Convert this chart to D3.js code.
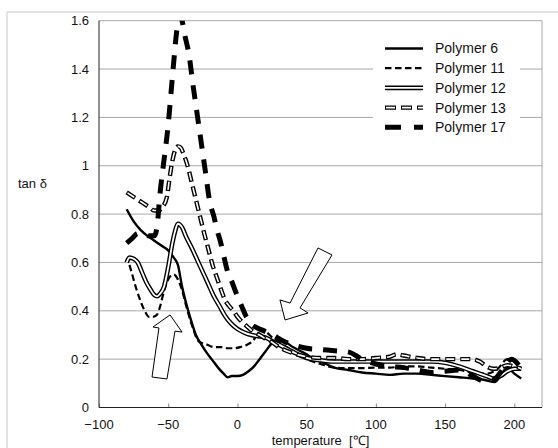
<!DOCTYPE html>
<html>
<head>
<meta charset="utf-8">
<script src="https://cdn.jsdelivr.net/npm/d3@7"></script>
<style>
  body { margin: 0; background: #fff; }
  text { font-family: "Liberation Sans", Arial, sans-serif; fill: #111; }
</style>
</head>
<body>
<div id="chart"></div>
<script>
// ---- data ----
const xTicks = [-100, -50, 0, 50, 100, 150, 200]
const yTicks = [0, 0.2, 0.4, 0.6, 0.8, 1, 1.2, 1.4, 1.6]
const seriesNames = ["Polymer 6", "Polymer 11", "Polymer 12", "Polymer 13", "Polymer 17"]

const p6T = [-80, -75, -70, -65, -60, -55, -50, -46, -43, -40, -37, -34, -30, -26, -22, -18, -14, -10, -7, -4, 0, 4, 8, 12, 16, 20, 24, 28, 30, 35, 40, 45, 50, 55, 60, 70, 80, 90, 100, 110, 120, 130, 140, 150, 160, 170, 178, 186, 191, 195, 200, 205]
const p6V = [0.82, 0.77, 0.735, 0.71, 0.69, 0.67, 0.65, 0.62, 0.59, 0.50, 0.43, 0.37, 0.30, 0.26, 0.225, 0.195, 0.165, 0.14, 0.125, 0.13, 0.13, 0.135, 0.15, 0.17, 0.2, 0.23, 0.26, 0.28, 0.285, 0.27, 0.25, 0.235, 0.22, 0.2, 0.19, 0.165, 0.155, 0.145, 0.14, 0.135, 0.14, 0.14, 0.135, 0.13, 0.125, 0.12, 0.115, 0.105, 0.14, 0.165, 0.14, 0.12]

const p11T = [-78, -76, -73, -70, -67, -64, -61, -58, -56, -54, -52, -49, -46, -43, -40, -37, -34, -31, -29, -25, -22, -17, -12, -7, -3, 2, 7, 10, 13, 16, 20, 25, 30, 40, 50, 60, 70, 80, 90, 100, 110, 120, 130, 140, 150, 160, 170, 180, 188, 195, 200, 205]
const p11V = [0.59, 0.55, 0.49, 0.44, 0.40, 0.375, 0.375, 0.385, 0.415, 0.46, 0.50, 0.54, 0.55, 0.53, 0.485, 0.42, 0.36, 0.31, 0.28, 0.265, 0.26, 0.25, 0.25, 0.245, 0.245, 0.25, 0.26, 0.27, 0.29, 0.32, 0.315, 0.29, 0.27, 0.235, 0.2, 0.18, 0.165, 0.163, 0.163, 0.165, 0.165, 0.17, 0.17, 0.165, 0.16, 0.155, 0.145, 0.14, 0.16, 0.2, 0.19, 0.16]

const p12T = [-80, -78, -75, -72, -69, -66, -63, -60, -58, -56, -53, -50, -47, -45, -43, -40, -37, -33, -29, -25, -21, -17, -13, -9, -5, 0, 5, 10, 15, 20, 25, 30, 40, 50, 60, 70, 80, 90, 100, 110, 120, 130, 140, 150, 160, 170, 180, 185, 190, 195, 200, 205]
const p12V = [0.60, 0.62, 0.615, 0.60, 0.56, 0.52, 0.49, 0.465, 0.46, 0.47, 0.50, 0.58, 0.68, 0.73, 0.76, 0.745, 0.705, 0.66, 0.61, 0.56, 0.51, 0.46, 0.42, 0.38, 0.35, 0.325, 0.31, 0.30, 0.295, 0.29, 0.275, 0.26, 0.23, 0.205, 0.195, 0.19, 0.19, 0.19, 0.19, 0.19, 0.19, 0.19, 0.19, 0.185, 0.17, 0.15, 0.13, 0.12, 0.13, 0.15, 0.16, 0.16]

const p13T = [-80, -76, -72, -68, -64, -60, -57, -54, -51, -49, -47, -45, -43, -41, -39, -36, -33, -30, -27, -24, -21, -18, -15, -12, -9, -6, -3, 0, 4, 8, 12, 16, 20, 25, 30, 40, 50, 60, 70, 80, 90, 100, 110, 115, 120, 130, 140, 150, 160, 170, 175, 180, 185, 190, 195, 200, 205]
const p13V = [0.89, 0.875, 0.86, 0.845, 0.83, 0.815, 0.815, 0.83, 0.87, 0.95, 1.02, 1.065, 1.08, 1.075, 1.05, 1.0, 0.93, 0.86, 0.79, 0.72, 0.655, 0.59, 0.54, 0.49, 0.445, 0.42, 0.40, 0.375, 0.35, 0.33, 0.31, 0.30, 0.285, 0.27, 0.25, 0.225, 0.21, 0.205, 0.205, 0.2, 0.2, 0.205, 0.21, 0.22, 0.215, 0.205, 0.2, 0.2, 0.2, 0.2, 0.19, 0.17, 0.16, 0.165, 0.175, 0.17, 0.16]

const p17T = [-80, -76, -72, -68, -64, -60, -58, -56, -54, -52, -50, -48, -46, -44, -42, -40, -38, -35, -32, -29, -26, -23, -20, -17, -15, -12, -10, -7, -4, -2, 0, 3, 6, 10, 14, 18, 22, 26, 30, 35, 40, 50, 60, 70, 80, 90, 100, 110, 120, 130, 140, 150, 160, 170, 178, 185, 192, 198, 205]
const p17V = [0.68, 0.70, 0.72, 0.72, 0.71, 0.71, 0.75, 0.88, 0.98, 1.07, 1.17, 1.3, 1.43, 1.55, 1.62, 1.6, 1.54, 1.46, 1.33, 1.21, 1.09, 0.97, 0.85, 0.79, 0.74, 0.68, 0.63, 0.56, 0.52, 0.49, 0.46, 0.42, 0.38, 0.345, 0.33, 0.32, 0.31, 0.3, 0.285, 0.27, 0.26, 0.245, 0.24, 0.235, 0.23, 0.2, 0.18, 0.17, 0.165, 0.155, 0.145, 0.15, 0.155, 0.13, 0.11, 0.115, 0.16, 0.2, 0.16]

// block arrows (annotation), in data units
const upArrowT = [-61, -48.7, -40, -45.1, -50.9, -61.7, -56.7]
const upArrowV = [0.333, 0.383, 0.312, 0.316, 0.118, 0.126, 0.329]
const downArrowT = [58.2, 68.3, 45.2, 51, 34.4, 30.7, 38]
const downArrowV = [0.66, 0.631, 0.412, 0.391, 0.362, 0.445, 0.432]

// ---- layout ----
const W = 558, H = 448
const plot = {left: 99, right: 542, top: 20.7, bottom: 407.5}

const svg = d3.select("#chart").append("svg")
    .attr("width", W)
    .attr("height", H)

const x = d3.scaleLinear().domain([-100, 220]).range([plot.left, plot.right])
const y = d3.scaleLinear().domain([0, 1.6]).range([plot.bottom, plot.top])

// outer frame (only top and left edges visible)
svg.append("path")
    .attr("d", `M7,${H} V12 H${W}`)
    .attr("fill", "none")
    .attr("stroke", "#c8c8c8")

// gridlines
svg.selectAll(".grid").data(yTicks.filter(d => d > 0))
    .join("line")
    .attr("class", "grid")
    .attr("x1", plot.left).attr("x2", plot.right)
    .attr("y1", d => y(d)).attr("y2", d => y(d))
    .attr("stroke", "#a8a8a8")

// right border
svg.append("line")
    .attr("x1", plot.right).attr("x2", plot.right)
    .attr("y1", plot.top).attr("y2", plot.bottom)
    .attr("stroke", "#a8a8a8")

// x axis: ticks pointing into the plot
const xAxis = svg.append("g")
    .attr("transform", `translate(0, ${plot.bottom})`)
    .call(d3.axisTop(x).tickValues(xTicks).tickSize(4).tickFormat(""))
xAxis.select(".domain").remove()
xAxis.selectAll("line").attr("stroke", "#888")

svg.selectAll(".xlab").data(xTicks)
    .join("text")
    .attr("class", "xlab")
    .attr("x", d => x(d))
    .attr("y", 429)
    .attr("text-anchor", "middle")
    .style("font-size", "13px")
    .text(d => d < 0 ? "\u2212" + Math.abs(d) : d)

svg.selectAll(".ylab").data(yTicks)
    .join("text")
    .attr("class", "ylab")
    .attr("x", 89)
    .attr("y", d => y(d))
    .attr("dy", "0.35em")
    .attr("text-anchor", "end")
    .style("font-size", "13px")
    .text(d => d)

// axis lines
svg.append("path")
    .attr("d", `M${plot.left},${plot.top} V${plot.bottom} H${plot.right}`)
    .attr("fill", "none")
    .attr("stroke", "#222")

svg.append("text")
    .attr("x", (plot.left + plot.right) / 2)
    .attr("y", 445)
    .attr("text-anchor", "middle")
    .style("font-size", "13px")
    .text("temperature\u00a0\u00a0[\u2103]")

svg.append("text")
    .attr("x", 18)
    .attr("y", 183)
    .attr("dy", "0.35em")
    .style("font-size", "13px")
    .text("tan \u03b4")

// ---- curves ----
svg.append("clipPath").attr("id", "clip")
    .append("rect")
    .attr("x", plot.left).attr("y", plot.top)
    .attr("width", plot.right - plot.left).attr("height", plot.bottom - plot.top)

const line = d3.line()
    .x(d => x(d[0]))
    .y(d => y(d[1]))
    .curve(d3.curveMonotoneX)

const zip = (t, v) => t.map((d, i) => [d, v[i]])

// each style is a list of stroke layers drawn on top of each other
const styles = {
    "Polymer 6":  [{w: 2.4, c: "#000"}],
    "Polymer 11": [{w: 2.2, c: "#000", dash: "6.5,3.5"}],
    "Polymer 12": [{w: 4.6, c: "#000"}, {w: 1.8, c: "#fff"}],
    "Polymer 13": [{w: 4.4, c: "#000", dash: "10,5"}, {w: 1.6, c: "#fff", dash: "8,7", off: -1}],
    "Polymer 17": [{w: 5, c: "#000", dash: "14,11"}]
}
const seriesData = [zip(p6T, p6V), zip(p11T, p11V), zip(p12T, p12V), zip(p13T, p13V), zip(p17T, p17V)]

const curves = svg.append("g").attr("clip-path", "url(#clip)")
seriesNames.forEach((name, i) => {
    styles[name].forEach(s => {
        curves.append("path")
            .datum(seriesData[i])
            .attr("d", line)
            .attr("fill", "none")
            .attr("stroke", s.c)
            .attr("stroke-width", s.w)
            .attr("stroke-dasharray", s.dash || null)
            .attr("stroke-dashoffset", s.off || null)
            .attr("stroke-linejoin", "round")
    })
})

// ---- arrows ----
const arrowLine = d3.line().x(d => x(d[0])).y(d => y(d[1]))
;[zip(upArrowT, upArrowV), zip(downArrowT, downArrowV)].forEach(a => {
    svg.append("path")
        .attr("d", arrowLine(a) + "Z")
        .attr("fill", "#fff")
        .attr("stroke", "#000")
        .attr("stroke-width", 1)
        .attr("stroke-linejoin", "miter")
})

// ---- legend ----
const legend = svg.append("g")
legend.append("rect")
    .attr("x", 373).attr("y", 32)
    .attr("width", 147).attr("height", 112)
    .attr("fill", "#fff")

const legendDash = {
    "Polymer 11": [{w: 2.2, c: "#000", dash: "6.5,3.5"}],
    "Polymer 13": [{w: 4.4, c: "#000", dash: "11,5"}, {w: 1.6, c: "#fff", dash: "9,7", off: -1}],
    "Polymer 17": [{w: 5, c: "#000", dash: "16,13"}]
}
seriesNames.forEach((name, i) => {
    const ly = 48.5 + i * 19.7
    ;(legendDash[name] || styles[name]).forEach(s => {
        legend.append("line")
            .attr("x1", 385).attr("x2", 423)
            .attr("y1", ly).attr("y2", ly)
            .attr("stroke", s.c)
            .attr("stroke-width", s.w)
            .attr("stroke-dasharray", s.dash || null)
            .attr("stroke-dashoffset", s.off || null)
    })
    legend.append("text")
        .attr("x", 435)
        .attr("y", ly)
        .attr("dy", "0.35em")
        .style("font-size", "14px")
        .text(name)
})
</script>
</body>
</html>
